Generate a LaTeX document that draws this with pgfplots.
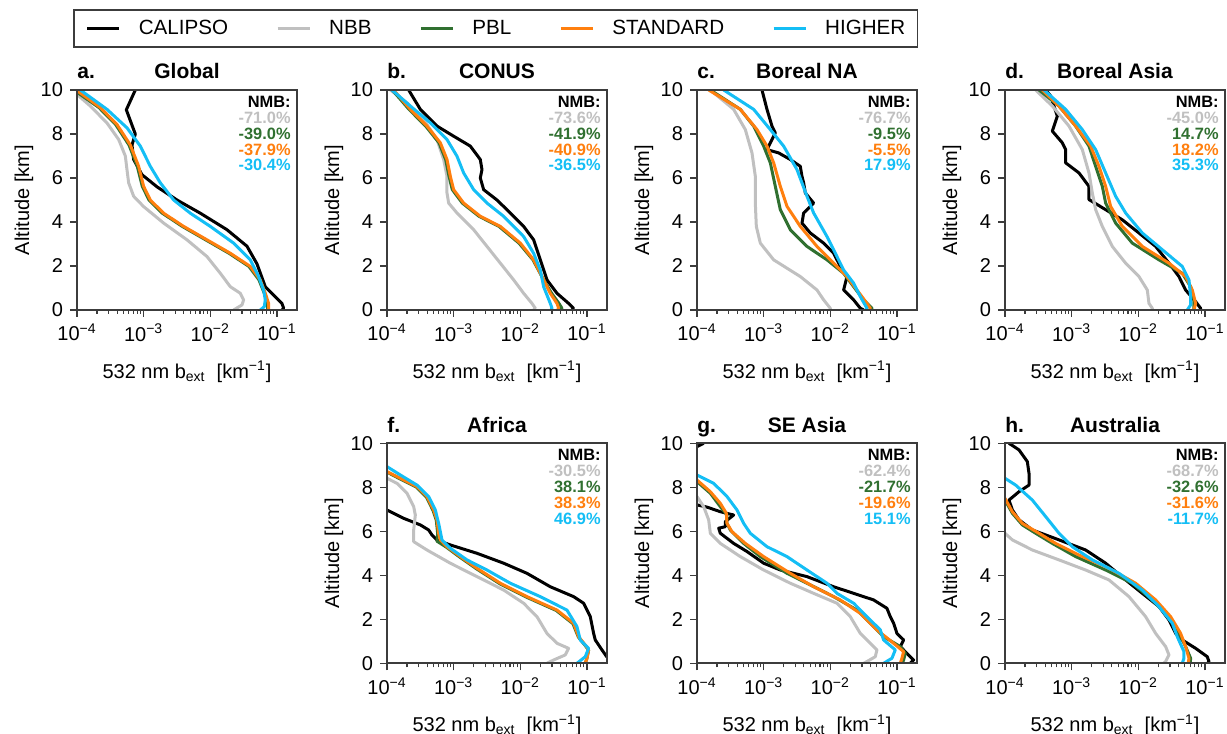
\documentclass[border=0pt]{standalone}
\usepackage{fontspec}
\setmainfont{Liberation Sans}
\usepackage{pgfplots}
\pgfplotsset{compat=1.18}
\definecolor{cNBB}{RGB}{192,192,192}
\definecolor{cPBL}{RGB}{48,112,48}
\definecolor{cSTD}{RGB}{255,127,14}
\definecolor{cHIG}{RGB}{20,190,245}
\definecolor{frame}{RGB}{60,60,60}
\tikzset{
  cal/.style={black, line width=1.5pt, line join=round},
  nbb/.style={cNBB, line width=1.5pt, line join=round},
  pbl/.style={cPBL, line width=1.5pt, line join=round},
  std/.style={cSTD, line width=1.5pt, line join=round},
  hig/.style={cHIG, line width=1.5pt, line join=round},
  ttl/.style={anchor=base, yshift=5.5pt, inner sep=0pt, font=\bfseries\fontsize{10.5}{12}\selectfont},
  lbl/.style={anchor=base west, yshift=5.5pt, inner sep=0pt, font=\bfseries\fontsize{10.5}{12}\selectfont},
  nmbnode/.style={anchor=north east, xshift=-3pt, yshift=-3pt, inner sep=0pt, align=right, font=\bfseries\fontsize{8.2}{7.9}\selectfont},
}
\newcommand{\nmb}[4]{NMB:\\\textcolor{cNBB}{#1}\\\textcolor{cPBL}{#2}\\\textcolor{cSTD}{#3}\\\textcolor{cHIG}{#4}}
\pgfplotsset{
  panel/.style={
    scale only axis, width=110pt, height=110pt, anchor=south west,
    clip mode=individual,
    xmin=-4, xmax=-0.699, ymin=0, ymax=10,
    xtick={-4,-3,-2,-1},
    xticklabels={10\textsuperscript{−4},10\textsuperscript{−3},10\textsuperscript{−2},10\textsuperscript{−1}},
    minor xtick={-3.699,-3.523,-3.398,-3.301,-3.222,-3.155,-3.097,-3.046,
      -2.699,-2.523,-2.398,-2.301,-2.222,-2.155,-2.097,-2.046,
      -1.699,-1.523,-1.398,-1.301,-1.222,-1.155,-1.097,-1.046},
    ytick={0,2,4,6,8,10}, yticklabels={0,2,4,6,8,10},
    xtick pos=left, ytick pos=left,
    tick align=outside, major tick length=3.5pt, minor tick length=2pt,
    tick style={frame, line width=0.6pt},
    axis line style={frame, line width=0.8pt},
    axis on top,
    tick label style={font=\fontsize{10}{12}\selectfont},
    label style={font=\fontsize{10}{12}\selectfont},
    xlabel={532 nm b\textsubscript{ext}\ \ [km\textsuperscript{−1}]},
    ylabel={Altitude [km]},
    xlabel style={at={(axis description cs:0.5,-0.31)}, anchor=base},
    ylabel style={at={(axis description cs:-0.218,0.5)}, anchor=base},
  }
}
\begin{document}
\begin{tikzpicture}
% ---------------- a. Global
\begin{axis}[panel, at={(38.5pt,212pt)},
  legend columns=5,
  legend style={at={(axis description cs:-0.018,1.191)}, anchor=south west,
    draw=frame, line width=0.8pt, font=\fontsize{10.3}{12}\selectfont,
    inner xsep=6pt, inner ysep=3pt,
    nodes={inner xsep=0pt, inner ysep=2pt},
    /tikz/every odd column/.append style={column sep=9pt},
    /tikz/every even column/.append style={column sep=24pt}},
  legend image code/.code={\draw[#1] (0pt,0pt) -- (16pt,0pt);},
]
\addplot[cal] coordinates {(-3.125,10) (-3.26,9.1) (-3.15,8.2) (-3.125,8.0) (-3.175,7.5) (-3.15,6.84) (-3.025,6.15) (-2.8,5.6) (-2.5,5.0) (-2.15,4.4) (-1.75,3.65) (-1.45,2.9) (-1.3,2.1) (-1.175,1.06) (-1.05,0.68) (-0.925,0.3) (-0.9,0.08) (-0.925,0)};
\addlegendentry{CALIPSO}
\addplot[nbb] coordinates {(-4,9.8) (-3.8,9.27) (-3.55,8.5) (-3.375,7.75) (-3.275,7.0) (-3.25,6.38) (-3.225,5.78) (-3.15,5.17) (-3.0,4.7) (-2.7,3.95) (-2.35,3.19) (-2.05,2.43) (-1.85,1.67) (-1.7,1.06) (-1.55,0.76) (-1.5,0.46) (-1.525,0.23) (-1.65,0)};
\addlegendentry{NBB}
\addplot[pbl] coordinates {(-4.0,9.9) (-3.67,9.2) (-3.42,8.43) (-3.22,7.5) (-3.095,6.53) (-3.02,5.62) (-2.92,5.0) (-2.72,4.4) (-2.42,3.8) (-2.07,3.19) (-1.72,2.58) (-1.42,1.98) (-1.27,1.37) (-1.19,0.76) (-1.14,0.3) (-1.14,0)};
\addlegendentry{PBL}
\addplot[std] coordinates {(-3.99,9.95) (-3.65,9.2) (-3.4,8.43) (-3.2,7.5) (-3.075,6.53) (-3.0,5.62) (-2.9,5.0) (-2.7,4.4) (-2.4,3.8) (-2.05,3.19) (-1.7,2.58) (-1.4,1.98) (-1.25,1.37) (-1.175,0.76) (-1.125,0.3) (-1.125,0)};
\addlegendentry{STANDARD}
\addplot[hig] coordinates {(-3.95,10) (-3.55,9.12) (-3.25,8.28) (-3.05,7.45) (-2.9,6.53) (-2.75,5.78) (-2.55,5.0) (-2.3,4.4) (-2.0,3.8) (-1.65,3.04) (-1.4,2.28) (-1.275,1.52) (-1.2,0.91) (-1.175,0.46) (-1.19,0.15) (-1.25,0)};
\addlegendentry{HIGHER}
\node[ttl] at (rel axis cs:0.5,1) {Global};
\node[lbl] at (rel axis cs:0,1) {a.};
\node[nmbnode] at (rel axis cs:1,1) {\nmb{-71.0\%}{-39.0\%}{-37.9\%}{-30.4\%}};
\end{axis}
% ---------------- b. CONUS
\begin{axis}[panel, at={(193.5pt,212pt)}]
\addplot[cal] coordinates {(-3.675,10) (-3.5,9.12) (-3.25,8.36) (-3.0,7.9) (-2.75,7.45) (-2.6,6.84) (-2.575,6.38) (-2.6,6.0) (-2.55,5.47) (-2.35,5.0) (-2.15,4.41) (-1.95,3.8) (-1.8,3.19) (-1.7,2.28) (-1.6,1.37) (-1.45,0.76) (-1.275,0.3) (-1.2,0.08) (-1.225,0)};
\addplot[nbb] coordinates {(-3.95,10) (-3.7,9.42) (-3.45,8.66) (-3.25,7.75) (-3.15,6.84) (-3.1,6.08) (-3.1,5.32) (-3.075,4.86) (-2.95,4.41) (-2.7,3.65) (-2.5,2.89) (-2.3,2.13) (-2.1,1.37) (-1.95,0.76) (-1.825,0.3) (-1.775,0.08) (-1.8,0)};
\addplot[pbl] coordinates {(-3.92,10) (-3.67,9.12) (-3.42,8.36) (-3.22,7.6) (-3.12,6.84) (-3.07,6.08) (-3.02,5.47) (-2.87,4.86) (-2.62,4.26) (-2.32,3.8) (-2.02,3.04) (-1.81,2.28) (-1.65,1.37) (-1.53,0.76) (-1.42,0.3) (-1.375,0.08) (-1.39,0)};
\addplot[std] coordinates {(-3.9,10) (-3.65,9.12) (-3.4,8.36) (-3.2,7.6) (-3.1,6.84) (-3.05,6.08) (-3.0,5.47) (-2.85,4.86) (-2.6,4.26) (-2.3,3.8) (-2.0,3.04) (-1.8,2.28) (-1.65,1.37) (-1.55,0.76) (-1.45,0.3) (-1.425,0.08) (-1.44,0)};
\addplot[hig] coordinates {(-3.925,10) (-3.65,9.27) (-3.35,8.51) (-3.1,7.75) (-2.95,6.99) (-2.85,6.23) (-2.7,5.47) (-2.5,4.86) (-2.25,4.26) (-1.95,3.34) (-1.8,2.58) (-1.7,1.82) (-1.65,1.06) (-1.55,0.3) (-1.525,0.08) (-1.54,0)};
\node[ttl] at (rel axis cs:0.5,1) {CONUS};
\node[lbl] at (rel axis cs:0,1) {b.};
\node[nmbnode] at (rel axis cs:1,1) {\nmb{-73.6\%}{-41.9\%}{-40.9\%}{-36.5\%}};
\end{axis}
% ---------------- c. Boreal NA
\begin{axis}[panel, at={(348.5pt,212pt)}]
\addplot[cal] coordinates {(-3.025,10) (-2.95,9.12) (-2.875,8.36) (-2.825,8.05) (-2.875,7.75) (-2.95,7.29) (-2.775,7.14) (-2.6,6.84) (-2.45,6.53) (-2.425,6.08) (-2.4,5.78) (-2.375,5.32) (-2.25,4.86) (-2.4,4.41) (-2.425,3.95) (-2.3,3.5) (-2.1,3.04) (-1.95,2.58) (-1.85,1.98) (-1.75,1.52) (-1.8,0.91) (-1.65,0.46) (-1.55,0.08) (-1.5,0)};
\addplot[nbb] coordinates {(-3.8,10) (-3.45,9.12) (-3.275,8.2) (-3.175,7.14) (-3.125,6.08) (-3.125,4.86) (-3.11,3.8) (-3.05,3.04) (-2.85,2.28) (-2.45,1.52) (-2.2,0.91) (-2.1,0.46) (-2.0,0.08) (-2.0,0)};
\addplot[pbl] coordinates {(-3.8,10) (-3.35,9.12) (-3.15,8.36) (-3.0,7.45) (-2.9,6.69) (-2.825,5.62) (-2.75,4.56) (-2.6,3.65) (-2.35,2.89) (-2.05,2.28) (-1.8,1.67) (-1.65,1.06) (-1.5,0.46) (-1.375,0.08) (-1.38,0)};
\addplot[std] coordinates {(-3.825,10) (-3.35,9.12) (-3.1,8.2) (-2.95,7.45) (-2.85,6.69) (-2.75,5.62) (-2.65,4.71) (-2.45,3.8) (-2.2,2.89) (-1.95,2.13) (-1.75,1.52) (-1.6,0.91) (-1.45,0.3) (-1.4,0.08) (-1.41,0)};
\addplot[hig] coordinates {(-3.6,10) (-3.15,9.12) (-2.9,8.2) (-2.7,7.45) (-2.5,6.38) (-2.35,5.17) (-2.25,4.41) (-2.05,3.34) (-1.9,2.43) (-1.8,1.82) (-1.65,1.22) (-1.55,0.61) (-1.45,0.08) (-1.46,0)};
\node[ttl] at (rel axis cs:0.5,1) {Boreal NA};
\node[lbl] at (rel axis cs:0,1) {c.};
\node[nmbnode] at (rel axis cs:1,1) {\nmb{-76.7\%}{-9.5\%}{-5.5\%}{17.9\%}};
\end{axis}
% ---------------- d. Boreal Asia
\begin{axis}[panel, at={(502.5pt,212pt)}]
\addplot[cal] coordinates {(-3.39,10) (-3.315,9.73) (-3.215,8.81) (-3.265,8.36) (-3.29,8.13) (-3.14,7.6) (-3.09,7.29) (-3.09,6.69) (-2.89,6.23) (-2.74,5.62) (-2.74,5.02) (-2.49,4.56) (-2.24,4.1) (-1.99,3.5) (-1.74,2.89) (-1.54,2.13) (-1.39,1.52) (-1.29,0.91) (-1.14,0.38) (-1.065,0.08) (-1.07,0)};
\addplot[nbb] coordinates {(-3.54,10) (-3.29,9.27) (-3.04,8.36) (-2.84,7.29) (-2.74,6.23) (-2.69,5.32) (-2.64,4.56) (-2.54,3.8) (-2.39,2.89) (-2.19,2.13) (-1.99,1.52) (-1.865,0.91) (-1.84,0.3) (-1.79,0.08) (-1.79,0)};
\addplot[pbl] coordinates {(-3.49,10) (-3.19,9.27) (-2.94,8.36) (-2.74,7.45) (-2.64,6.53) (-2.54,5.62) (-2.49,4.86) (-2.34,3.95) (-2.09,3.04) (-1.69,2.28) (-1.34,1.67) (-1.215,1.06) (-1.165,0.46) (-1.165,0)};
\addplot[std] coordinates {(-3.44,10) (-3.19,9.27) (-2.94,8.36) (-2.715,7.45) (-2.59,6.53) (-2.49,5.62) (-2.415,4.71) (-2.24,3.8) (-1.94,2.89) (-1.54,2.13) (-1.29,1.52) (-1.19,0.91) (-1.14,0.3) (-1.165,0)};
\addplot[hig] coordinates {(-3.415,10) (-3.09,9.12) (-2.84,8.2) (-2.64,7.29) (-2.49,6.23) (-2.34,5.17) (-2.19,4.41) (-1.94,3.5) (-1.64,2.74) (-1.34,1.98) (-1.24,1.37) (-1.215,0.61) (-1.215,0.23) (-1.265,0)};
\node[ttl] at (rel axis cs:0.5,1) {Boreal Asia};
\node[lbl] at (rel axis cs:0,1) {d.};
\node[nmbnode] at (rel axis cs:1,1) {\nmb{-45.0\%}{14.7\%}{18.2\%}{35.3\%}};
\end{axis}
% ---------------- f. Africa
\begin{axis}[panel, at={(193.5pt,35.35pt)}]
\addplot[cal] coordinates {(-4,6.97) (-3.75,6.59) (-3.5,6.29) (-3.375,6.06) (-3.325,5.83) (-3.25,5.6) (-3.05,5.38) (-2.65,5.0) (-2.25,4.55) (-1.9,4.09) (-1.55,3.48) (-1.2,3.03) (-1.05,2.73) (-0.95,2.12) (-0.9,1.36) (-0.875,1.06) (-0.775,0.61) (-0.699,0.28)};
\addplot[nbb] coordinates {(-4,8.41) (-3.85,8.18) (-3.7,7.73) (-3.6,7.12) (-3.575,6.74) (-3.6,6.06) (-3.6,5.53) (-3.4,5.15) (-3.05,4.55) (-2.65,3.94) (-2.25,3.33) (-1.95,2.73) (-1.75,2.12) (-1.6,1.36) (-1.45,0.91) (-1.275,0.68) (-1.325,0.38) (-1.5,0.15) (-1.6,0)};
\addplot[pbl] coordinates {(-4,8.69) (-3.81,8.39) (-3.56,8.01) (-3.41,7.56) (-3.31,6.95) (-3.26,6.5) (-3.24,5.91) (-3.25,5.55) (-3.11,5.28) (-2.91,4.83) (-2.66,4.3) (-2.31,3.62) (-1.91,3.01) (-1.46,2.4) (-1.21,1.8) (-1.13,1.2) (-1.03,0.82) (-0.975,0.6) (-1.0,0.23) (-1.025,0)};
\addplot[std] coordinates {(-4,8.71) (-3.8,8.41) (-3.55,8.03) (-3.4,7.58) (-3.3,6.97) (-3.25,6.52) (-3.225,5.91) (-3.2,5.61) (-3.1,5.3) (-2.9,4.85) (-2.65,4.32) (-2.3,3.64) (-1.9,3.03) (-1.45,2.42) (-1.2,1.82) (-1.125,1.21) (-1.025,0.83) (-0.975,0.61) (-1.0,0.23) (-1.025,0)};
\addplot[hig] coordinates {(-4,8.94) (-3.8,8.56) (-3.55,8.1) (-3.375,7.58) (-3.275,6.97) (-3.225,6.36) (-3.175,5.61) (-3.05,5.23) (-2.8,4.7) (-2.5,4.24) (-2.15,3.64) (-1.7,3.03) (-1.3,2.42) (-1.15,1.67) (-1.1,1.06) (-0.975,0.68) (-1.025,0.3) (-1.15,0)};
\node[ttl] at (rel axis cs:0.5,1) {Africa};
\node[lbl] at (rel axis cs:0,1) {f.};
\node[nmbnode] at (rel axis cs:1,1) {\nmb{-30.5\%}{38.1\%}{38.3\%}{46.9\%}};
\end{axis}
% ---------------- g. SE Asia
\begin{axis}[panel, at={(348.5pt,35.35pt)}]
\addplot[cal] coordinates {(-4,9.85) (-3.9,10)};
\addplot[cal] coordinates {(-4,7.2) (-3.85,7.1) (-3.65,6.89) (-3.45,6.74) (-3.575,6.44) (-3.575,6.21) (-3.675,6.14) (-3.65,5.91) (-3.45,5.45) (-3.25,5.08) (-3.0,4.55) (-2.75,4.24) (-2.35,3.94) (-1.95,3.48) (-1.65,3.18) (-1.35,2.88) (-1.15,2.5) (-1.1,2.12) (-1.05,1.82) (-1.0,1.36) (-0.9,1.06) (-0.95,0.76) (-0.85,0.45) (-0.75,0.15) (-0.8,0)};
\addplot[nbb] coordinates {(-4,7.58) (-3.9,7.12) (-3.825,6.52) (-3.8,5.91) (-3.65,5.45) (-3.35,4.85) (-3.0,4.24) (-2.6,3.64) (-2.25,3.18) (-1.9,2.73) (-1.7,2.12) (-1.55,1.36) (-1.4,0.91) (-1.3,0.61) (-1.325,0.3) (-1.45,0.08) (-1.5,0)};
\addplot[pbl] coordinates {(-4,8.26) (-3.8,7.73) (-3.65,7.12) (-3.55,6.74) (-3.55,6.36) (-3.5,6.06) (-3.3,5.45) (-3.05,4.85) (-2.65,4.09) (-2.35,3.64) (-1.95,3.03) (-1.6,2.42) (-1.4,1.82) (-1.2,1.21) (-0.95,0.76) (-0.875,0.45) (-0.9,0.15) (-0.92,0)};
\addplot[std] coordinates {(-4,8.33) (-3.8,7.8) (-3.65,7.27) (-3.56,6.82) (-3.55,6.36) (-3.475,5.98) (-3.275,5.45) (-3.0,4.85) (-2.6,4.09) (-2.25,3.48) (-1.85,2.88) (-1.55,2.27) (-1.3,1.52) (-1.05,0.91) (-0.9,0.53) (-0.925,0.23) (-0.95,0)};
\addplot[hig] coordinates {(-4,8.56) (-3.75,8.18) (-3.55,7.58) (-3.4,6.97) (-3.3,6.36) (-3.2,5.91) (-2.95,5.3) (-2.65,4.85) (-2.35,4.24) (-2.05,3.64) (-1.9,3.18) (-1.65,2.73) (-1.45,2.12) (-1.25,1.52) (-1.2,1.06) (-1.025,0.61) (-1.075,0.23) (-1.2,0)};
\node[ttl] at (rel axis cs:0.5,1) {SE Asia};
\node[lbl] at (rel axis cs:0,1) {g.};
\node[nmbnode] at (rel axis cs:1,1) {\nmb{-62.4\%}{-21.7\%}{-19.6\%}{15.1\%}};
\end{axis}
% ---------------- h. Australia
\begin{axis}[panel, at={(502.5pt,35.35pt)}]
\addplot[cal] coordinates {(-3.94,10) (-3.79,9.7) (-3.665,9.17) (-3.64,8.64) (-3.64,8.1) (-3.79,7.8) (-3.94,7.42) (-3.89,6.97) (-3.79,6.52) (-3.59,6.06) (-3.19,5.61) (-2.79,5.15) (-2.49,4.55) (-2.19,3.79) (-1.94,3.18) (-1.69,2.58) (-1.54,1.97) (-1.44,1.36) (-1.34,1.06) (-1.14,0.68) (-0.965,0.3) (-0.94,0.08) (-0.96,0)};
\addplot[nbb] coordinates {(-4,5.91) (-3.89,5.61) (-3.59,5.15) (-3.19,4.7) (-2.79,4.24) (-2.44,3.79) (-2.14,3.03) (-1.89,2.12) (-1.74,1.36) (-1.59,0.76) (-1.54,0.38) (-1.59,0.08) (-1.62,0)};
\addplot[pbl] coordinates {(-4,7.42) (-3.89,6.82) (-3.74,6.29) (-3.54,5.91) (-3.29,5.45) (-2.94,4.85) (-2.49,4.24) (-2.09,3.64) (-1.79,2.88) (-1.54,2.12) (-1.39,1.36) (-1.29,0.76) (-1.215,0.23) (-1.22,0)};
\addplot[std] coordinates {(-4,7.5) (-3.89,6.89) (-3.74,6.36) (-3.49,5.91) (-3.24,5.45) (-2.89,4.92) (-2.44,4.32) (-2.04,3.64) (-1.74,2.88) (-1.515,2.12) (-1.365,1.36) (-1.29,0.76) (-1.24,0.23) (-1.25,0)};
\addplot[hig] coordinates {(-4,8.41) (-3.84,8.1) (-3.59,7.42) (-3.39,6.67) (-3.19,5.91) (-2.99,5.3) (-2.69,4.7) (-2.29,4.09) (-1.94,3.33) (-1.69,2.58) (-1.49,1.82) (-1.415,1.21) (-1.315,0.53) (-1.315,0.23) (-1.34,0)};
\node[ttl] at (rel axis cs:0.5,1) {Australia};
\node[lbl] at (rel axis cs:0,1) {h.};
\node[nmbnode] at (rel axis cs:1,1) {\nmb{-68.7\%}{-32.6\%}{-31.6\%}{-11.7\%}};
\end{axis}
\pgfresetboundingbox
\path[use as bounding box] (0pt,0pt) rectangle (613.5pt,367pt);
\end{tikzpicture}
\end{document}
